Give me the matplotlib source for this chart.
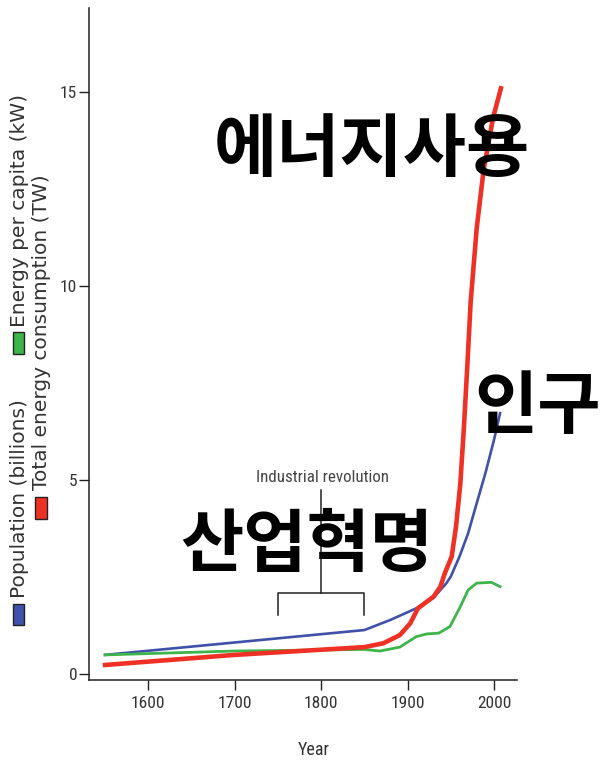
import matplotlib
matplotlib.use('Agg')
import matplotlib.pyplot as plt
from matplotlib import font_manager as fm
from matplotlib.patches import Rectangle

# ---------------- data ----------------
pop_years = [1550, 1700, 1850, 1880, 1910, 1930, 1945, 1950, 1960, 1970, 1980, 1990, 2000, 2007]
population = [0.50, 0.82, 1.14, 1.40, 1.70, 1.97, 2.35, 2.52, 3.03, 3.63, 4.41, 5.18, 6.04, 6.73]

energy_years = [1550, 1700, 1850, 1872, 1891, 1903, 1912, 1930, 1938, 1943, 1951, 1956, 1961,
                1965, 1969, 1973, 1980, 1988, 1999, 2008]
total_energy = [0.24, 0.50, 0.70, 0.80, 1.01, 1.31, 1.70, 2.00, 2.26, 2.60, 3.03, 3.80, 4.90,
                6.30, 7.90, 9.60, 11.50, 13.00, 14.35, 15.10]

pc_years = [1550, 1700, 1850, 1868, 1891, 1910, 1922, 1936, 1949, 1961, 1970, 1980, 1997, 2007]
per_capita = [0.50, 0.60, 0.64, 0.60, 0.70, 0.97, 1.04, 1.06, 1.23, 1.74, 2.17, 2.35, 2.37, 2.26]

x_ticks = [1600, 1700, 1800, 1900, 2000]
y_ticks = [0, 5, 10, 15]

legend_labels = ['Population (billions)', 'Energy per capita (kW)', 'Total energy consumption (TW)']
korean_labels = ['에너지사용', '인구', '산업혁명']

# ---------------- fonts ----------------
entries = fm.fontManager.ttflist
names = {f.name for f in entries}
NARROW, STRETCH, nscale, iscale = 'Liberation Sans', 'normal', 0.88, 0.78
if 'Liberation Sans Narrow' in names:
    NARROW, STRETCH, nscale, iscale = 'Liberation Sans Narrow', 'normal', 1.0, 1.0
else:
    for fam in ['Roboto Condensed', 'Open Sans Condensed']:
        if fam in names:
            NARROW, STRETCH, nscale, iscale = fam, 'normal', 1.0, 0.9
            break
    else:
        for f in entries:
            if f.name in ('Noto Sans', 'Roboto', 'Open Sans') and str(f.stretch) in (
                    'condensed', 'semi-condensed', 'extra-condensed'):
                NARROW, STRETCH, nscale, iscale = f.name, f.stretch, 0.95, 0.76
                break
plt.rcParams['font.family'] = [NARROW, 'DejaVu Sans']
plt.rcParams['font.stretch'] = STRETCH

BLUE = '#3F51A8'
GREEN = '#3DB54A'
RED = '#EE3124'
INK = '#222222'

W, H = 601, 763
fig = plt.figure(figsize=(W / 100, H / 100), dpi=100)
ax = fig.add_axes([89 / W, 1 - 680 / H, (517 - 89) / W, (680 - 8) / H])


def fx(px):
    return px / W


def fy(py):
    return 1 - py / H


ax.plot(pop_years, population, color=BLUE, lw=1.9, zorder=3)
ax.plot(pc_years, per_capita, color=GREEN, lw=2.0, zorder=4)
ax.plot(energy_years, total_energy, color=RED, lw=3.3, zorder=5)

ax.set_xlim(1531.4, 2026.6)
ax.set_ylim(-0.147, 17.17)
for s in ['top', 'right']:
    ax.spines[s].set_visible(False)
for s in ['left', 'bottom']:
    ax.spines[s].set_linewidth(1.1)
    ax.spines[s].set_color(INK)
ax.set_xticks(x_ticks)
ax.set_yticks(y_ticks)
ax.tick_params(axis='both', length=7.2, width=1.0, color=INK, labelcolor='#333333',
               labelsize=12.5 * nscale)
ax.tick_params(axis='x', pad=4.0)
ax.tick_params(axis='y', pad=1.2)

ax.set_xlabel('Year', fontsize=13 * nscale, color='#333333')
ax.xaxis.set_label_coords((313.5 - 89) / 428, (680 - 741) / 672)

# Industrial revolution bracket
ax.plot([1750, 1750, 1850, 1850], [1.53, 2.09, 2.09, 1.53], color=INK, lw=1.1, zorder=2)
ax.plot([1800, 1800], [2.09, 4.75], color=INK, lw=1.1, zorder=2)
ax.text(1801, 4.96, 'Industrial revolution', ha='center', va='baseline',
        fontsize=13.5 * iscale, color='#444444')

# legend (rotated, left side)
sq = [(13, 604, 11, 21, BLUE), (13, 332, 11, 22, GREEN), (35, 497, 12, 22, RED)]
for x0, y0, w, h, c in sq:
    fig.add_artist(Rectangle((fx(x0), fy(y0 + h)), w / W, h / H, transform=fig.transFigure,
                             facecolor=c, edgecolor=INK, lw=1.0))
leg_pos = [(19.5, 598), (19.5, 327), (42, 490)]
for (px, py), lab in zip(leg_pos, legend_labels):
    fig.text(fx(px), fy(py), lab, rotation=90, ha='center', va='bottom',
             fontsize=14.5, family='DejaVu Sans', stretch='normal', color='#333333')

# Korean overlay labels
kor_pos = [(371.5, 151), (538, 408), (306.5, 546)]
for (px, py), lab in zip(kor_pos, korean_labels):
    fig.text(fx(px), fy(py), lab, ha='center', va='center', fontsize=49.5,
             fontweight='black', family=['Noto Sans CJK KR', 'DejaVu Sans'],
             stretch='normal', color='black', zorder=10)

fig.savefig('out.png', dpi=100)
